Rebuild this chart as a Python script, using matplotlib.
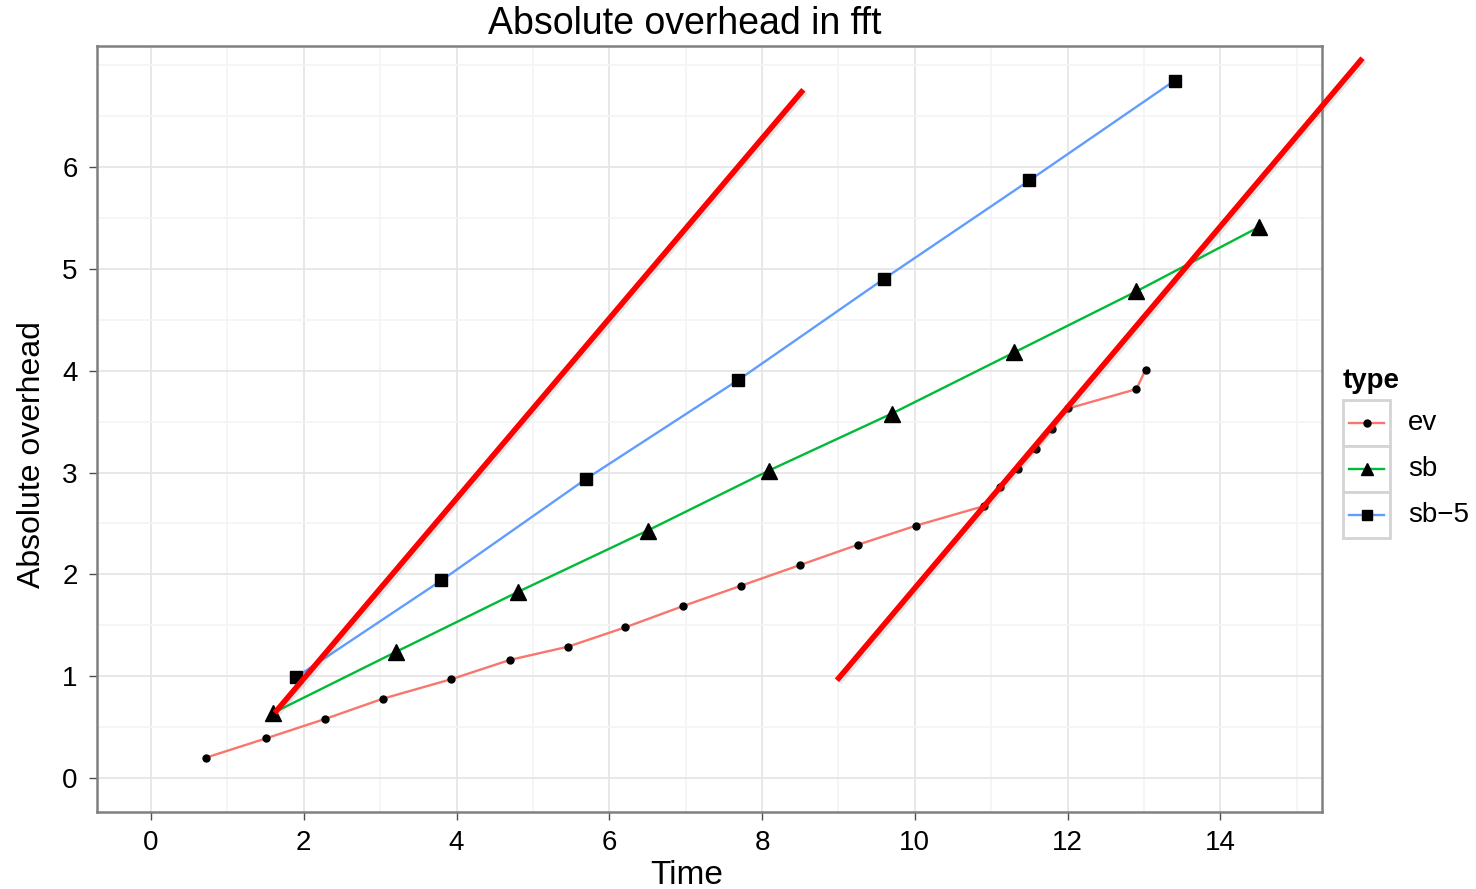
"""Absolute overhead in fft: ggplot-style line chart recreated with matplotlib."""

import matplotlib
matplotlib.use("Agg")
import matplotlib.pyplot as plt
import matplotlib.patheffects as pe
import numpy as np
from matplotlib.patches import Rectangle

# series values
ev_time = [0.72, 1.51, 2.28, 3.04, 3.93, 4.70, 5.46, 6.21, 6.97, 7.73, 8.49, 9.25,
           10.02, 10.90, 11.12, 11.35, 11.58, 11.80, 12.01, 12.90, 13.02]
ev_overhead = [0.20, 0.39, 0.58, 0.78, 0.97, 1.16, 1.29, 1.48, 1.69, 1.89, 2.09, 2.29,
               2.48, 2.67, 2.86, 3.04, 3.23, 3.43, 3.63, 3.82, 4.01]
sb_time = [1.60, 3.21, 4.81, 6.50, 8.09, 9.70, 11.30, 12.90, 14.50]
sb_overhead = [0.64, 1.24, 1.83, 2.43, 3.02, 3.58, 4.18, 4.78, 5.41]
sb5_time = [1.90, 3.80, 5.70, 7.69, 9.59, 11.50, 13.40]
sb5_overhead = [0.99, 1.94, 2.94, 3.91, 4.90, 5.87, 6.85]

# two hand-drawn red reference lines
red_a_time = [1.62, 8.54]
red_a_overhead = [0.64, 6.76]
red_b_time = [8.98, 15.86]
red_b_overhead = [0.96, 7.07]

x_ticks = [0, 2, 4, 6, 8, 10, 12, 14]
y_ticks = [0, 1, 2, 3, 4, 5, 6]
type_labels = ["ev", "sb", "sb\u22125"]
type_colors = ["#F8766D", "#00BA38", "#619CFF"]
type_markers = ["o", "^", "s"]
type_sizes = [5, 11, 9]

plt.rcParams["font.family"] = ["Liberation Sans", "DejaVu Sans"]

W, H = 1476, 889
fig = plt.figure(figsize=(W / 100, H / 100), dpi=100)
ax = fig.add_axes([97 / W, 1 - 812 / H, (1322 - 97) / W, (812 - 46) / H])

series = [(ev_time, ev_overhead), (sb_time, sb_overhead), (sb5_time, sb5_overhead)]
for (xs, ys), color, marker, size in zip(series, type_colors, type_markers, type_sizes):
    ax.plot(xs, ys, color=color, lw=1.7, zorder=3)
    ax.plot(xs, ys, ls="none", marker=marker, ms=size, color="black", zorder=4)

shadow = [pe.SimpleLineShadow(offset=(1.5, -1.5), shadow_color="gray", alpha=0.2), pe.Normal()]
for xs, ys in [(red_a_time, red_a_overhead), (red_b_time, red_b_overhead)]:
    ax.plot(xs, ys, color="red", lw=4.0, solid_capstyle="butt", clip_on=False,
            zorder=5, path_effects=shadow)

ax.set_xlim(-0.707, 15.33)
ax.set_ylim(-0.334, 7.19)
ax.set_xticks(x_ticks)
ax.set_yticks(y_ticks)
ax.set_xticks(np.arange(1, 16, 2), minor=True)
ax.set_yticks(np.append(np.arange(0.5, 7, 1.0), 7.0), minor=True)
ax.grid(which="major", color="#e6e6e6", lw=1.3, zorder=0)
ax.grid(which="minor", color="#f4f4f4", lw=1.3, zorder=0)
ax.set_axisbelow(True)
for spine in ax.spines.values():
    spine.set_color("#808080")
    spine.set_linewidth(1.8)
ax.tick_params(which="major", length=6, width=1.0, color="#4d4d4d", labelsize=20)
ax.tick_params(axis="x", which="major", pad=7)
ax.tick_params(axis="y", which="major", pad=8)
ax.tick_params(which="minor", length=0)

ax.set_xlabel("Time", fontsize=24)
ax.xaxis.set_label_coords(0.481, -0.063)
ax.set_ylabel("Absolute overhead", fontsize=23)
ax.yaxis.set_label_coords(-0.041, 0.466)
fig.text(685 / W, 1 - 24 / H, "Absolute overhead in fft", fontsize=27,
         ha="center", va="center")

# ggplot-like legend with bordered keys
lax = fig.add_axes([1343 / W, 1 - 538 / H, 47 / W, 138 / H])
lax.set_xlim(0, 1)
lax.set_ylim(0, 3)
lax.axis("off")
for i, (label, color, marker, size) in enumerate(zip(type_labels, type_colors, type_markers, type_sizes)):
    yc = 2.5 - i
    lax.add_patch(Rectangle((0, yc - 0.5), 1, 1, facecolor="white", edgecolor="#d4d4d4",
                            lw=2.0, clip_on=False))
    lax.plot([0.12, 0.88], [yc, yc], color=color, lw=1.7)
    lax.plot([0.5], [yc], marker=marker, ms=size * (0.85 if i else 1.0), color="black")
    lax.text(1.38, yc, label, fontsize=20, va="center", ha="left")
lax.text(0.0, 3.42, "type", fontsize=20, fontweight="bold", va="center", ha="left")

fig.savefig("out.png", dpi=100)
